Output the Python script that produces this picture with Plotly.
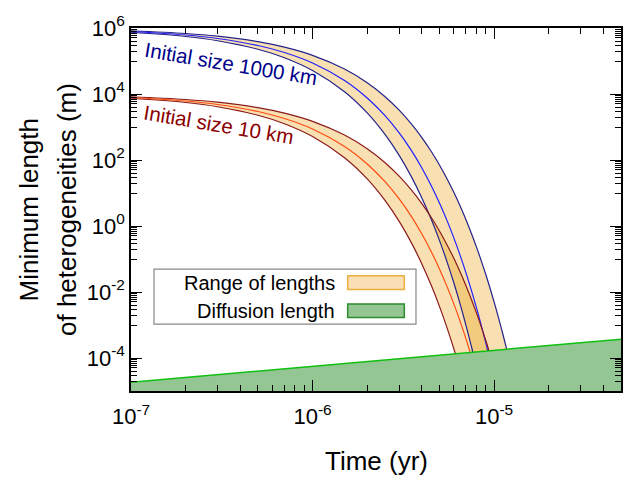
import plotly.graph_objects as go

# Time grid (yr)
time_yr = [1e-7, 2e-7, 3e-7, 5e-7, 7e-7, 1e-6, 1.5e-6, 2e-6, 2.5e-6, 3e-6, 3.5e-6, 4e-6,
           4.5e-6, 5e-6, 5.5e-6, 6e-6, 6.5e-6, 7e-6, 7.5e-6, 8e-6, 8.5e-6, 9e-6, 9.5e-6,
           1e-5, 1.05e-5, 1.1e-5, 1.15e-5, 1.2e-5]

# Initial size 1000 km (m)
big_upper = [8.26e5, 6.82e5, 5.64e5, 3.85e5, 2.62e5, 1.48e5, 5.69e4, 2.19e4, 8.41e3, 3.24e3,
             1.24e3, 479, 184, 70.8, 27.2, 10.5, 4.03, 1.55, 0.596, 0.229, 0.0881, 0.0339,
             0.0130, 5.01e-3, 1.93e-3, 7.41e-4, 2.85e-4, 1.10e-4]
big_mid = [7.83e5, 6.14e5, 4.81e5, 2.95e5, 1.81e5, 8.71e4, 2.57e4, 7.59e3, 2.24e3, 661, 195,
           57.5, 17.0, 5.01, 1.48, 0.437, 0.129, 0.0380, 0.0112, 3.31e-3, 9.77e-4, 2.88e-4,
           8.51e-5]
big_lower = [7.43e5, 5.53e5, 4.11e5, 2.27e5, 1.26e5, 5.16e4, 1.17e4, 2.67e3, 606, 138, 31.3,
             7.11, 1.62, 0.367, 0.0835, 0.0190, 4.31e-3, 9.79e-4, 2.23e-4, 5.06e-5]

# Initial size 10 km (m)
small_upper = [8.26e3, 6.82e3, 5.64e3, 3.85e3, 2.62e3, 1.48e3, 569, 219, 84.1, 32.4, 12.4,
               4.79, 1.84, 0.708, 0.272, 0.105, 0.0403, 0.0155, 5.96e-3, 2.29e-3, 8.81e-4,
               3.39e-4, 1.30e-4]
small_mid = [7.83e3, 6.14e3, 4.81e3, 2.95e3, 1.81e3, 871, 257, 75.9, 22.4, 6.61, 1.95, 0.575,
             0.170, 0.0501, 0.0148, 4.37e-3, 1.29e-3, 3.80e-4, 1.12e-4]
small_lower = [7.43e3, 5.53e3, 4.11e3, 2.27e3, 1.26e3, 516, 117, 26.7, 6.06, 1.38, 0.313,
               0.0711, 0.0162, 3.67e-3, 8.35e-4, 1.90e-4, 4.31e-5]

# Diffusion length (straight line on log-log)
diff_time = [1e-7, 5e-5]
diff_len = [1.83e-5, 3.73e-4]
diff_floor = [1e-5, 1e-5]

# Ticks
x_tickvals = [1e-7, 1e-6, 1e-5]
x_ticktext = ["10<sup>-7</sup>", "10<sup>-6</sup>", "10<sup>-5</sup>"]
y_tickvals = [1e-4, 1e-2, 1, 1e2, 1e4, 1e6]
y_ticktext = ["10<sup>-4</sup>", "10<sup>-2</sup>", "10<sup>0</sup>", "10<sup>2</sup>",
              "10<sup>4</sup>", "10<sup>6</sup>"]
x_minor = [k * 10 ** e for e in (-7, -6, -5) for k in range(2, 10) if k * 10 ** e <= 5e-5]
y_minor = [k * 10.0 ** e for e in (-5, -3, -1, 1, 3, 5) for k in range(1, 10)]

BAND_FILL = "rgba(232,160,20,0.32)"
GREEN_FILL = "#93C693"

fig = go.Figure()


def add_band(lower, upper):
    fig.add_trace(go.Scatter(x=time_yr[:len(lower)], y=lower, mode="lines",
                             line=dict(width=0, shape="spline"), hoverinfo="skip"))
    fig.add_trace(go.Scatter(x=time_yr[:len(upper)], y=upper, mode="lines", fill="tonexty",
                             fillcolor=BAND_FILL, line=dict(width=0, shape="spline"),
                             hoverinfo="skip"))


add_band(big_lower, big_upper)
add_band(small_lower, small_upper)

for ys, col in [(big_upper, "#23238C"), (big_lower, "#23238C"), (big_mid, "#2020FF"),
                (small_upper, "#8B1A1A"), (small_lower, "#8B1A1A"), (small_mid, "#FF4A10")]:
    fig.add_trace(go.Scatter(x=time_yr[:len(ys)], y=ys, mode="lines",
                             line=dict(color=col, width=1.2, shape="spline")))

# Diffusion length region
fig.add_trace(go.Scatter(x=diff_time, y=diff_floor, mode="lines", line=dict(width=0)))
fig.add_trace(go.Scatter(x=diff_time, y=diff_len, mode="lines", fill="tonexty",
                         fillcolor=GREEN_FILL, line=dict(color="#10C010", width=1.5)))

axis_common = dict(type="log", showline=True, linecolor="black", linewidth=1.5,
                   mirror="allticks", ticks="inside", ticklen=11, tickwidth=1.2,
                   tickcolor="black", showgrid=False, zeroline=False,
                   ticklabeloverflow="allow",
                   tickfont=dict(size=22, color="black"))

fig.update_xaxes(range=[-7, -4.30103], tickmode="array", tickvals=x_tickvals,
                 ticktext=x_ticktext, ticklabelstandoff=5,
                 minor=dict(tickmode="array", tickvals=x_minor, ticks="inside", ticklen=6,
                            tickwidth=1.2, tickcolor="black", showgrid=False),
                 **axis_common)
fig.update_yaxes(range=[-5, 6], tickmode="array", tickvals=y_tickvals, ticktext=y_ticktext,
                 minor=dict(tickmode="array", tickvals=y_minor, ticks="inside", ticklen=6,
                            tickwidth=1.2, tickcolor="black", showgrid=False),
                 **axis_common)

annotations = [
    dict(text="Time (yr)", x=0.5, y=-0.193, xref="paper", yref="paper", showarrow=False,
         xanchor="center", yanchor="middle", font=dict(size=26)),
    dict(text="Minimum length", x=-0.2102, y=0.5, xref="paper", yref="paper",
         showarrow=False, textangle=-90, xanchor="center", yanchor="middle",
         font=dict(size=26)),
    dict(text="of heterogeneities (m)", x=-0.1316, y=0.5, xref="paper", yref="paper",
         showarrow=False, textangle=-90, xanchor="center", yanchor="middle",
         font=dict(size=26)),
    dict(text="Initial size 1000 km", x=0.2031, y=0.9035, xref="paper", yref="paper",
         showarrow=False, textangle=9.5, xanchor="center", yanchor="middle",
         font=dict(size=20.5, color="#00008B")),
    dict(text="Initial size 10 km", x=0.1796, y=0.7332, xref="paper", yref="paper",
         showarrow=False, textangle=9.5, xanchor="center", yanchor="middle",
         font=dict(size=20.5, color="#8B0000")),
    dict(text="Range of lengths", x=0.4204, y=0.2976, xref="paper", yref="paper",
         showarrow=False, xanchor="right", yanchor="middle", font=dict(size=20)),
    dict(text="Diffusion length", x=0.4204, y=0.2217, xref="paper", yref="paper",
         showarrow=False, xanchor="right", yanchor="middle", font=dict(size=20)),
]

shapes = [
    dict(type="rect", xref="paper", yref="paper", x0=0.0469, x1=0.5816, y0=0.1842, y1=0.3359,
         line=dict(color="#888888", width=1.2), fillcolor="white", layer="above"),
    dict(type="rect", xref="paper", yref="paper", x0=0.4422, x1=0.5578, y0=0.2796, y1=0.3172,
         line=dict(color="#EBB040", width=1.5), fillcolor="#F8E0B4", layer="above"),
    dict(type="rect", xref="paper", yref="paper", x0=0.4422, x1=0.5578, y0=0.2024, y1=0.2394,
         line=dict(color="#2E8B2E", width=1.5), fillcolor=GREEN_FILL, layer="above"),
]

fig.update_layout(width=635, height=483, margin=dict(l=131, r=14, t=18, b=92),
                  plot_bgcolor="white", paper_bgcolor="white", showlegend=False,
                  font=dict(family="Liberation Sans, Arial, sans-serif", color="black"),
                  annotations=annotations, shapes=shapes)

# Remove the default page margin so the figure sits at the window origin.
fig.write_html("out.html",
               config={"displayModeBar": False},
               post_script="document.body.style.margin='0px';"
                           "document.body.style.overflow='hidden';")
